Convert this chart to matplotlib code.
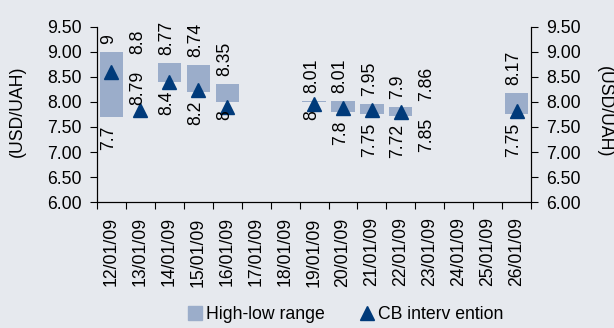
import matplotlib.pyplot as plt
from matplotlib.lines import Line2D
import numpy as np

plt.rcParams['font.family'] = ['Liberation Sans', 'DejaVu Sans']

dates = ["12/01/09", "13/01/09", "14/01/09", "15/01/09", "16/01/09", "17/01/09",
         "18/01/09", "19/01/09", "20/01/09", "21/01/09", "22/01/09", "23/01/09",
         "24/01/09", "25/01/09", "26/01/09"]
high = [9.0, 8.8, 8.77, 8.74, 8.35, np.nan, np.nan, 8.01, 8.01, 7.95, 7.9, 7.86,
        np.nan, np.nan, 8.17]
low = [7.7, 8.79, 8.4, 8.2, 8.0, np.nan, np.nan, 8.0, 7.8, 7.75, 7.72, 7.85,
       np.nan, np.nan, 7.75]
cb = [8.6, 7.83, 8.39, 8.24, 7.89, np.nan, np.nan, 7.96, 7.87, 7.84, 7.79, np.nan,
      np.nan, np.nan, 7.81]

bg = "#e6e9ee"
bar_col = "#9badca"
tri_col = "#003a7a"
fs = 12.7

fig = plt.figure(figsize=(6.14, 3.28), dpi=100, facecolor=bg)
ax = fig.add_axes([0.158, 0.384, 0.707, 0.534], facecolor=bg)

x = np.arange(len(dates))
hi = np.array(high)
lo = np.array(low)
ax.bar(x, hi - lo, bottom=lo, width=0.8, color=bar_col, linewidth=0)
ax.plot(x, cb, linestyle="none", marker="^", color=tri_col, markersize=10)

def fmt(v):
    return f"{v:g}"

for i in x:
    if np.isnan(hi[i]):
        continue
    ax.annotate(fmt(hi[i]), (i, hi[i]), xytext=(-2, 6), textcoords="offset points",
                rotation=90, ha="center", va="bottom", fontsize=fs)
    ax.annotate(fmt(lo[i]), (i, lo[i]), xytext=(-2, -6), textcoords="offset points",
                rotation=90, ha="center", va="top", fontsize=fs)

ax.set_xlim(-0.5, len(dates) - 0.5)
ax.set_ylim(6.0, 9.5)
yt = np.arange(6.0, 9.51, 0.5)
ax.set_yticks(yt)
ax.set_yticklabels([f"{v:.2f}" for v in yt], fontsize=fs)
ax.set_xticks(x)
ax.set_xticklabels(dates, rotation=90, fontsize=fs)
ax.set_xticks(np.arange(-0.5, len(dates), 1.0), minor=True)
ax.tick_params(axis="x", which="major", length=0, pad=11)
ax.tick_params(axis="x", which="minor", length=5, width=0.8)
ax.tick_params(axis="y", length=5, width=0.8, pad=6)
ax.spines["top"].set_visible(False)
for s in ["left", "bottom", "right"]:
    ax.spines[s].set_linewidth(0.8)

ax2 = ax.twinx()
ax2.set_ylim(6.0, 9.5)
ax2.set_yticks(yt)
ax2.set_yticklabels([f"{v:.2f}" for v in yt], fontsize=fs)
ax2.tick_params(axis="y", length=5, width=0.8, pad=6)
ax2.spines["top"].set_visible(False)
ax2.spines["right"].set_linewidth(0.8)

fig.text(0.028, 0.66, "(USD/UAH)", rotation=90, ha="center", va="center", fontsize=fs)
fig.text(0.984, 0.66, "(USD/UAH)", rotation=270, ha="center", va="center", fontsize=fs)

handles = [
    Line2D([], [], linestyle="none", marker="s", markersize=10, color=bar_col),
    Line2D([], [], linestyle="none", marker="^", markersize=10, color=tri_col),
]
fig.legend(handles, ["High-low range", "CB interv ention"], loc="center",
           bbox_to_anchor=(0.563, 0.04), ncol=2, frameon=False, fontsize=fs,
           handlelength=0.8, handletextpad=0.2, columnspacing=2.0)

fig.savefig("out.png", dpi=100, facecolor=bg)
